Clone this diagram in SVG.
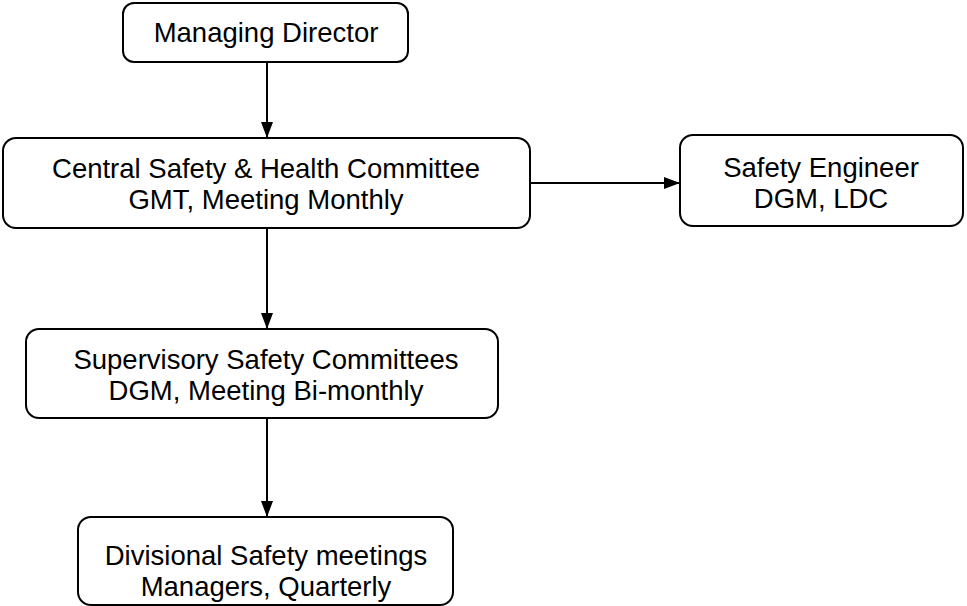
<svg xmlns="http://www.w3.org/2000/svg" width="967" height="606" viewBox="0 0 967 606">
<defs>
<marker id="arr" viewBox="0 0 16 12" refX="16" refY="6" markerWidth="16" markerHeight="12" markerUnits="userSpaceOnUse" orient="auto">
<path d="M0,0 L16,6 L0,12 Z" fill="#000"/>
</marker>
<style>
.box{fill:#fff;stroke:#000;stroke-width:2}
.t{font-family:"Liberation Sans",Arial,sans-serif;font-size:27.5px;fill:#000;text-anchor:middle}
.c{stroke:#000;stroke-width:2;fill:none;marker-end:url(#arr)}
</style>
</defs>
<rect width="967" height="606" fill="#fff"/>
<g id="connectors">
<line class="c" x1="267" y1="62" x2="267" y2="138"/>
<line class="c" x1="530" y1="183" x2="680" y2="183"/>
<line class="c" x1="267" y1="228" x2="267" y2="329"/>
<line class="c" x1="267" y1="418" x2="267" y2="517"/>
</g>
<g id="managing-director">
<rect class="box" x="123" y="3" width="285" height="59" rx="11"/>
<text class="t" x="266" y="42">Managing Director</text>
</g>
<g id="central-committee">
<rect class="box" x="3" y="138" width="527" height="90" rx="13"/>
<text class="t" x="266" y="178">Central Safety &amp; Health Committee</text>
<text class="t" x="266" y="209">GMT, Meeting Monthly</text>
</g>
<g id="safety-engineer">
<rect class="box" x="680" y="135" width="283" height="91" rx="13"/>
<text class="t" x="821" y="177">Safety Engineer</text>
<text class="t" x="821" y="208">DGM, LDC</text>
</g>
<g id="supervisory-committees">
<rect class="box" x="26" y="329" width="472" height="89" rx="13"/>
<text class="t" x="266" y="369">Supervisory Safety Committees</text>
<text class="t" x="266" y="400">DGM, Meeting Bi-monthly</text>
</g>
<g id="divisional-meetings">
<rect class="box" x="78" y="517" width="375" height="88" rx="13"/>
<text class="t" x="266" y="565">Divisional Safety meetings</text>
<text class="t" x="266" y="596">Managers, Quarterly</text>
</g>
</svg>
